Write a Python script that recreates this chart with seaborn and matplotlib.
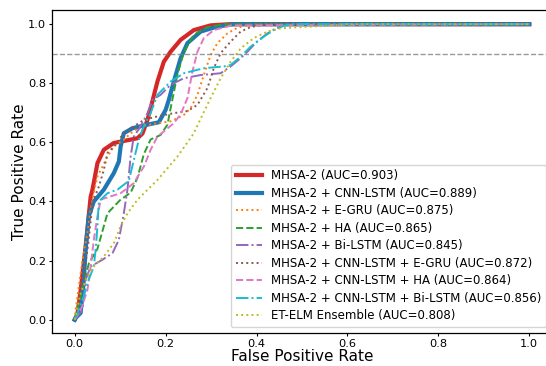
import numpy as np
import pandas as pd
import matplotlib
matplotlib.use("Agg")
import matplotlib.pyplot as plt
import seaborn as sns

# ROC points (FPR, TPR)
red_fpr = [0.0, 0.006, 0.013, 0.024, 0.035, 0.039, 0.05, 0.064, 0.086, 0.138, 0.149, 0.16, 0.167, 0.182, 0.196, 0.211, 0.233, 0.262, 0.299, 0.34, 1.0]
red_tpr = [0.0, 0.02, 0.10, 0.248, 0.416, 0.44, 0.53, 0.575, 0.598, 0.614, 0.63, 0.676, 0.716, 0.806, 0.873, 0.907, 0.947, 0.98, 0.996, 1.0, 1.0]

blue_fpr = [0.0, 0.002, 0.013, 0.02, 0.024, 0.031, 0.042, 0.064, 0.086, 0.097, 0.101, 0.108, 0.127, 0.16, 0.185, 0.2, 0.207, 0.218, 0.233, 0.248, 0.277, 0.314, 0.35, 1.0]
blue_tpr = [0.0, 0.006, 0.023, 0.135, 0.237, 0.35, 0.40, 0.44, 0.496, 0.535, 0.586, 0.631, 0.648, 0.66, 0.668, 0.71, 0.744, 0.806, 0.885, 0.936, 0.975, 0.992, 1.0, 1.0]

egru_fpr = [0.0, 0.002, 0.01, 0.017, 0.028, 0.035, 0.039, 0.05, 0.061, 0.072, 0.086, 0.108, 0.123, 0.145, 0.182, 0.211, 0.24, 0.255, 0.27, 0.284, 0.299, 0.314, 0.336, 0.358, 0.39, 1.0]
egru_tpr = [0.0, 0.034, 0.124, 0.203, 0.293, 0.372, 0.406, 0.485, 0.518, 0.552, 0.586, 0.609, 0.631, 0.654, 0.665, 0.671, 0.693, 0.716, 0.761, 0.828, 0.896, 0.936, 0.969, 0.988, 1.0, 1.0]

ha_fpr = [0.0, 0.013, 0.031, 0.05, 0.072, 0.1, 0.123, 0.138, 0.152, 0.167, 0.189, 0.204, 0.211, 0.226, 0.24, 0.262, 0.292, 0.33, 1.0]
ha_tpr = [0.0, 0.08, 0.19, 0.24, 0.36, 0.405, 0.43, 0.48, 0.56, 0.61, 0.625, 0.66, 0.716, 0.83, 0.905, 0.964, 0.99, 1.0, 1.0]

bilstm_fpr = [0.0, 0.017, 0.024, 0.035, 0.061, 0.083, 0.097, 0.108, 0.116, 0.123, 0.13, 0.145, 0.16, 0.171, 0.189, 0.211, 0.24, 0.277, 0.321, 0.343, 0.365, 0.38, 0.401, 0.424, 0.445, 0.47, 1.0]
bilstm_tpr = [0.0, 0.034, 0.135, 0.18, 0.203, 0.225, 0.27, 0.36, 0.44, 0.552, 0.62, 0.654, 0.699, 0.744, 0.761, 0.795, 0.817, 0.828, 0.834, 0.857, 0.885, 0.907, 0.941, 0.969, 0.988, 1.0, 1.0]

cl_egru_fpr = [0.0, 0.01, 0.02, 0.03, 0.039, 0.053, 0.064, 0.072, 0.086, 0.108, 0.13, 0.152, 0.182, 0.218, 0.248, 0.27, 0.292, 0.306, 0.321, 0.343, 0.365, 0.387, 0.42, 1.0]
cl_egru_tpr = [0.0, 0.06, 0.15, 0.26, 0.394, 0.45, 0.507, 0.564, 0.586, 0.631, 0.654, 0.676, 0.688, 0.699, 0.706, 0.727, 0.784, 0.851, 0.902, 0.941, 0.975, 0.99, 1.0, 1.0]

cl_ha_fpr = [0.0, 0.015, 0.028, 0.035, 0.042, 0.05, 0.057, 0.064, 0.101, 0.13, 0.152, 0.167, 0.182, 0.196, 0.218, 0.233, 0.248, 0.259, 0.27, 0.284, 0.306, 0.345, 1.0]
cl_ha_tpr = [0.0, 0.04, 0.101, 0.18, 0.27, 0.35, 0.406, 0.41, 0.428, 0.462, 0.518, 0.575, 0.62, 0.637, 0.665, 0.695, 0.75, 0.84, 0.907, 0.953, 0.98, 0.996, 1.0]

cl_bilstm_fpr = [0.0, 0.02, 0.028, 0.042, 0.046, 0.05, 0.053, 0.072, 0.094, 0.119, 0.13, 0.141, 0.152, 0.167, 0.182, 0.211, 0.24, 0.284, 0.328, 0.343, 0.365, 0.387, 0.416, 0.438, 0.46, 0.48, 1.0]
cl_bilstm_tpr = [0.0, 0.079, 0.124, 0.18, 0.237, 0.316, 0.40, 0.428, 0.44, 0.47, 0.54, 0.609, 0.654, 0.699, 0.761, 0.806, 0.834, 0.851, 0.857, 0.862, 0.89, 0.924, 0.958, 0.98, 0.995, 1.0, 1.0]

etelm_fpr = [0.0, 0.013, 0.028, 0.042, 0.064, 0.086, 0.101, 0.116, 0.138, 0.182, 0.226, 0.262, 0.277, 0.299, 0.321, 0.343, 0.365, 0.394, 0.424, 0.453, 0.497, 0.56, 0.6, 1.0]
etelm_tpr = [0.0, 0.09, 0.147, 0.18, 0.214, 0.259, 0.316, 0.36, 0.406, 0.473, 0.552, 0.631, 0.68, 0.75, 0.817, 0.873, 0.918, 0.953, 0.975, 0.986, 0.99, 0.995, 1.0, 1.0]

labels = [
    "MHSA-2 (AUC=0.903)",
    "MHSA-2 + CNN-LSTM (AUC=0.889)",
    "MHSA-2 + E-GRU (AUC=0.875)",
    "MHSA-2 + HA (AUC=0.865)",
    "MHSA-2 + Bi-LSTM (AUC=0.845)",
    "MHSA-2 + CNN-LSTM + E-GRU (AUC=0.872)",
    "MHSA-2 + CNN-LSTM + HA (AUC=0.864)",
    "MHSA-2 + CNN-LSTM + Bi-LSTM (AUC=0.856)",
    "ET-ELM Ensemble (AUC=0.808)",
]
curves = [
    (red_fpr, red_tpr), (blue_fpr, blue_tpr), (egru_fpr, egru_tpr),
    (ha_fpr, ha_tpr), (bilstm_fpr, bilstm_tpr), (cl_egru_fpr, cl_egru_tpr),
    (cl_ha_fpr, cl_ha_tpr), (cl_bilstm_fpr, cl_bilstm_tpr), (etelm_fpr, etelm_tpr),
]
colors = ["#d62728", "#1f77b4", "#ff7f0e", "#2ca02c", "#9467bd",
          "#8c564b", "#e377c2", "#17becf", "#bcbd22"]
styles = ["-", "-", ":", "--", "-.", ":", "--", "-.", ":"]
widths = [3, 3, 1.4, 1.4, 1.4, 1.4, 1.4, 1.4, 1.4]

fig = plt.figure(figsize=(5.46, 3.66), dpi=100)
ax = fig.add_axes([52 / 546, 1 - 333 / 366, 500 / 546, 323 / 366])

for (fpr, tpr), lab, c, ls, lw in zip(curves, labels, colors, styles, widths):
    df = pd.DataFrame({"fpr": fpr, "tpr": tpr})
    sns.lineplot(data=df, x="fpr", y="tpr", sort=False, ax=ax, label=lab,
                 color=c, linestyle=ls, linewidth=lw)

ax.axhline(0.9, color="gray", linestyle="--", linewidth=1, alpha=0.8)

ax.set_xlim(-0.05, 1.05)
ax.set_ylim(-0.045, 1.048)
ax.set_xticks([0.0, 0.2, 0.4, 0.6, 0.8, 1.0])
ax.set_yticks([0.0, 0.2, 0.4, 0.6, 0.8, 1.0])
ax.tick_params(labelsize=8.2, length=2.5, pad=1.8)
for s in ax.spines.values():
    s.set_linewidth(0.9)
ax.set_xlabel("False Positive Rate", fontsize=11, labelpad=0)
ax.set_ylabel("True Positive Rate", fontsize=11, labelpad=1)
ax.legend(loc="lower right", fontsize=8.5, labelspacing=0.38, handlelength=2.2)

fig.savefig("out.png", dpi=100)
